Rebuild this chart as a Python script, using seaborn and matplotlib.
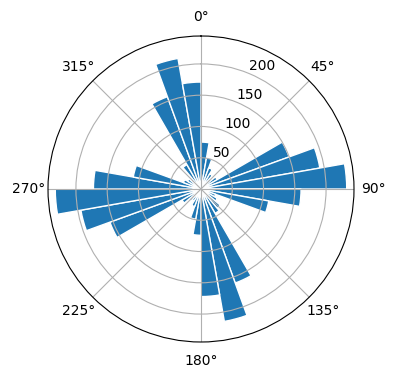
import numpy as np
import matplotlib
matplotlib.use("Agg")
import matplotlib.pyplot as plt
import seaborn as sns

# direction bins (degrees, left edge) and counts
directions = list(range(0, 360, 10))
counts = [75, 51, 36, 28, 22, 30, 150, 193, 233, 160, 110, 25,
          30, 40, 45, 160, 215, 172, 74, 49, 30, 22, 25, 35,
          155, 195, 233, 172, 110, 30, 25, 22, 45, 157, 212, 171]
bin_width_deg = 10

color = sns.color_palette()[0]

fig = plt.figure(figsize=(3.96, 3.80), dpi=100)
ax = fig.add_axes([48 / 396, 38 / 380, 306 / 396, 306 / 380], projection="polar")
ax.set_theta_zero_location("N")
ax.set_theta_direction(-1)

theta = np.deg2rad(directions)
ax.bar(theta, counts, width=np.deg2rad(bin_width_deg), align="edge",
       color=color, edgecolor="white", linewidth=1)

ax.set_rticks([50, 100, 150, 200])
fig.savefig("out.png", dpi=100)
